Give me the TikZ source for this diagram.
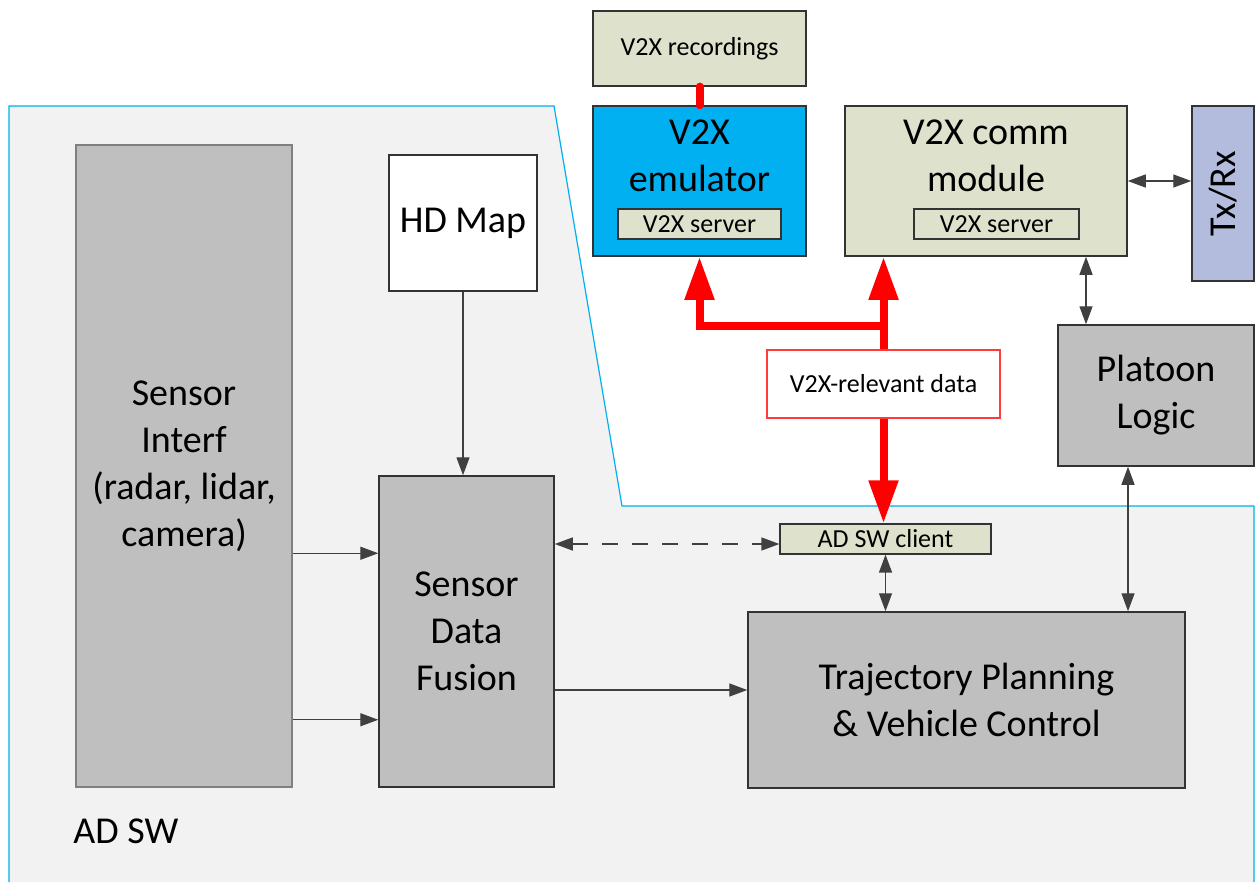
\documentclass[tikz,border=0pt]{standalone}
\usepackage{fontspec}
\setmainfont{Carlito}
\usepackage{tikz}
\usetikzlibrary{arrows.meta}
\definecolor{adbg}{HTML}{F2F2F2}
\definecolor{adline}{HTML}{00B0F0}
\definecolor{boxgray}{HTML}{BFBFBF}
\definecolor{boxline}{HTML}{333333}
\definecolor{lightgreen}{HTML}{DEE2CC}
\definecolor{emucyan}{HTML}{00B0F0}
\definecolor{txrxblue}{HTML}{B4BCDE}
\definecolor{arrowgray}{HTML}{404040}
\definecolor{datared}{HTML}{FF3B3B}
\newcommand{\BoxFont}{\fontsize{19}{23.5}\selectfont}
\newcommand{\TagFont}{\fontsize{13}{15}\selectfont}

\begin{document}
\begin{tikzpicture}[
      x=0.5pt, y=-0.5pt,
      base/.style={rectangle, draw=boxline, line width=0.75pt, inner sep=0pt, align=center},
      graybox/.style={base, fill=boxgray, font=\BoxFont},
      greenbox/.style={base, fill=lightgreen},
      tagbox/.style={greenbox, font=\TagFont, line width=0.6pt},
      headlabel/.style={font=\BoxFont, align=center, anchor=north, inner sep=0pt, yshift=-7.3pt},
      garrow/.style={-{Triangle[length=9pt, width=6.5pt]}, line width=0.7pt, draw=arrowgray},
      darrow/.style={{Triangle[length=9pt, width=6.5pt]}-{Triangle[length=9pt, width=6.5pt]}, line width=0.7pt, draw=arrowgray},
      redline/.style={line width=4pt, red},
      redarrow/.style={redline, -{Triangle[length=21.5pt, width=14pt]}}
    ]
      \useasboundingbox (0,0) rectangle (1256,882);
      \fill[adbg] (9,106) -- (554,106) -- (622,506) -- (1254,506) -- (1254,882) -- (9,882) -- cycle;
      \draw[adline, line width=0.6pt] (9,882) -- (9,106) -- (554,106) -- (622,506) -- (1254,506) -- (1254,882);
      \node[graybox, draw=gray, minimum width=108pt, minimum height=321pt] (sensif) at (184,466) {Sensor\\Interf\\(radar, lidar,\\camera)};
      \node[base, fill=white, font=\BoxFont, minimum width=74pt, minimum height=68pt] (hdmap) at (463,223) {HD Map};
      \node[graybox, minimum width=87.5pt, minimum height=155.5pt] (fusion) at (466.5,631.5) {Sensor\\Data\\Fusion};
      \node[graybox, minimum width=218.5pt, minimum height=88pt] (traj) at (966.5,700) {Trajectory Planning\\\& Vehicle Control};
      \node[tagbox, minimum width=105.5pt, minimum height=15pt] (client) at (885.5,539) {AD SW client};
      \node[graybox, minimum width=98pt, minimum height=70.5pt] (platoon) at (1156,395.5) {Platoon\\Logic};
      \node[greenbox, minimum width=141pt, minimum height=75pt, label={[headlabel]north:{V2X comm\\module}}] (comm) at (986,181) {};
      \node[tagbox, minimum width=82.5pt, minimum height=15pt] (commsrv) at (996.5,224) {V2X server};
      \node[base, fill=txrxblue, font=\BoxFont, minimum width=31pt, minimum height=87.5pt] (txrx) at (1223,193.5) {\rotatebox{90}{Tx/Rx}};
      \node[tagbox, minimum width=106.5pt, minimum height=37.5pt] (rec) at (699.5,48.5) {V2X recordings};
      \node[base, fill=emucyan, minimum width=106.5pt, minimum height=75pt, label={[headlabel]north:{V2X\\emulator}}] (emu) at (699.5,181) {};
      \node[tagbox, minimum width=81.5pt, minimum height=15pt] (emusrv) at (699.5,224) {V2X server};
      \node[base, draw=datared, fill=white, font=\TagFont, minimum width=116.5pt, minimum height=34pt] (reldata) at (883.5,384) {V2X-relevant data};
      \node[font=\BoxFont, anchor=base west, inner sep=0pt] (adsw) at (73,843) {AD SW};
      \coordinate (split) at (883.5,326);
      \draw[redline] (reldata.north) -- (split);
      \draw[redarrow] (split) -- (split |- comm.south);
      \draw[redarrow] (split) -| (emu.south);
      \draw[redarrow] (reldata.south) -- (reldata.south |- client.north);
      \draw[redline, line cap=round] (rec.south) -- (emu.north);
      \draw[garrow] ([yshift=-39pt]fusion.north west -| sensif.east) -- ([yshift=-39pt]fusion.north west);
      \draw[garrow] ([yshift=34pt]fusion.south west -| sensif.east) -- ([yshift=34pt]fusion.south west);
      \draw[garrow] (hdmap.south) -- (hdmap.south |- fusion.north);
      \draw[garrow] ([yshift=5pt]fusion.east |- traj.west) -- ([yshift=5pt]traj.west);
      \draw[darrow, dash pattern=on 8pt off 7pt] ([yshift=-2.5pt]fusion.east |- client.west) -- ([yshift=-2.5pt]client.west);
      \draw[darrow] (client.south) -- (client.south |- traj.north);
      \draw[darrow] ([xshift=-14pt]platoon.south) -- ([xshift=-14pt]platoon.south |- traj.north);
      \draw[darrow] ([xshift=50pt]comm.south) -- ([xshift=50pt]comm.south |- platoon.north);
      \draw[darrow] (comm.east) -- (comm.east -| txrx.west);
    \end{tikzpicture}
\end{document}
